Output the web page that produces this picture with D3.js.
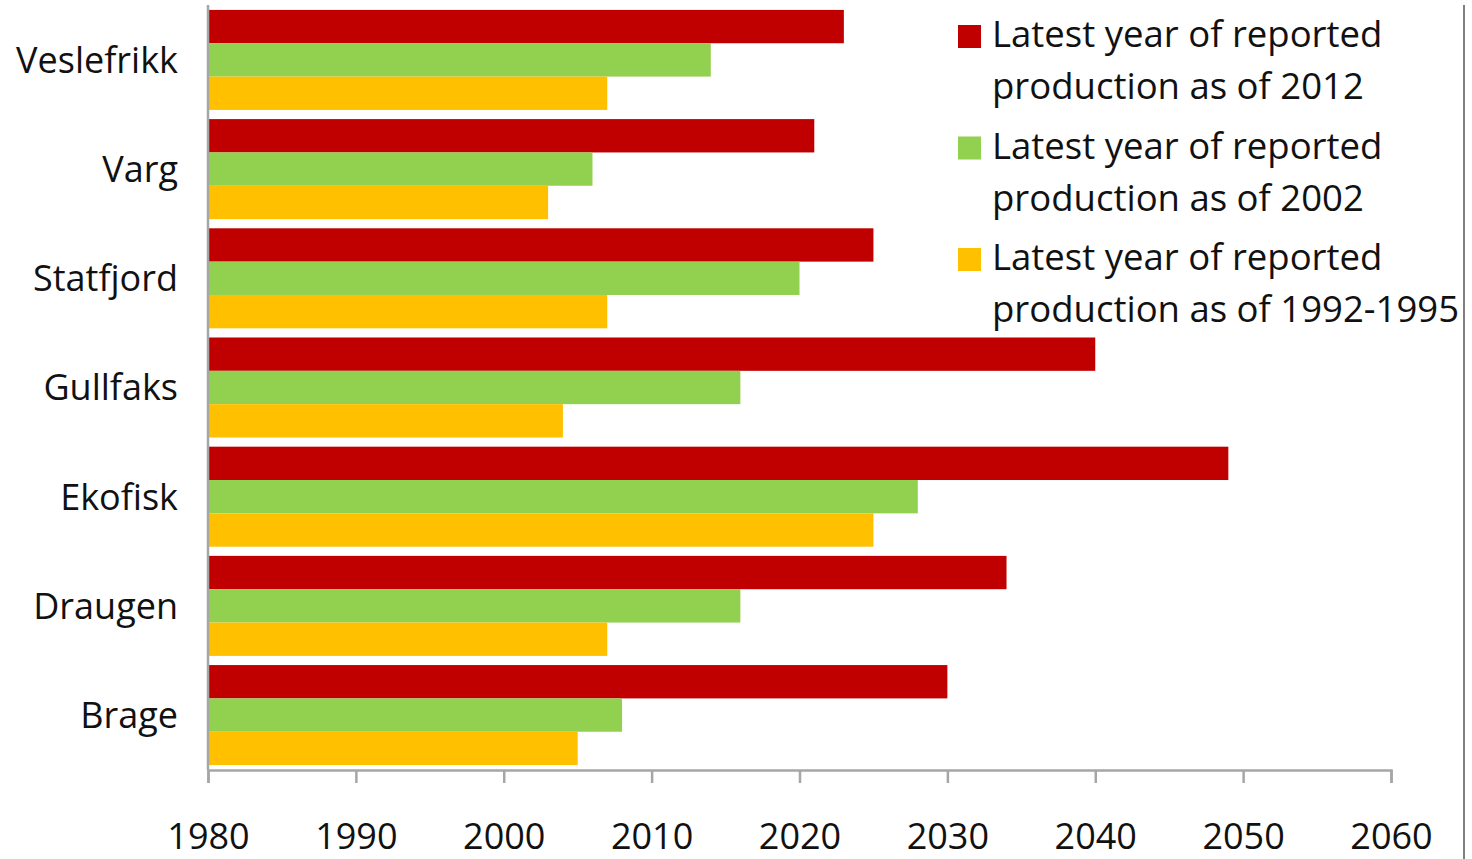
<!DOCTYPE html>
<html>
<head>
<meta charset="utf-8">
<script src="https://cdn.jsdelivr.net/npm/d3@7"></script>
<style>
  body { margin: 0; background: white; }
  text { font-family: "Open Sans", sans-serif; fill: #111; }
</style>
</head>
<body>
<div id="chart"></div>
<script>
// fields, top to bottom
var fields = ["Veslefrikk", "Varg", "Statfjord", "Gullfaks", "Ekofisk", "Draugen", "Brage"];

// series (legend order)
var seriesNames = [
  ["Latest year of reported", "production as of 2012"],
  ["Latest year of reported", "production as of 2002"],
  ["Latest year of reported", "production as of 1992-1995"]
];
var seriesColours = ["#C00000", "#92D050", "#FFC000"];

// latest reported production year per field
var asOf2012 = [2023, 2021, 2025, 2040, 2049, 2034, 2030];
var asOf2002 = [2014, 2006, 2020, 2016, 2028, 2016, 2008];
var asOf1992 = [2007, 2003, 2007, 2004, 2025, 2007, 2005];

var xTicks = [1980, 1990, 2000, 2010, 2020, 2030, 2040, 2050, 2060];

var width = 1472, height = 859;
var margin = { top: 5, left: 208, right: 81, bottom: 89 };

var svg = d3.select("#chart").append("svg")
  .attr("width", width)
  .attr("height", height);

var seriesValues = [asOf2012, asOf2002, asOf1992];

var xScale = d3.scaleLinear()
  .domain([1980, 2060])
  .range([margin.left, width - margin.right]);

var yScale = d3.scaleBand()
  .domain(fields)
  .range([margin.top, height - margin.bottom])
  .paddingInner(0.084)
  .paddingOuter(0.045);

var inner = d3.scaleBand()
  .domain(d3.range(seriesValues.length))
  .range([0, yScale.bandwidth()]);

// bars, one group per field
var groups = svg.append("g")
  .selectAll("g")
  .data(fields)
  .enter()
  .append("g")
  .attr("transform", (d) => "translate(0," + yScale(d) + ")");

groups.selectAll("rect")
  .data((d, i) => seriesValues.map((vals, s) => ({ s: s, value: vals[i] })))
  .enter()
  .append("rect")
  .attr("x", xScale(1980) + 1)
  .attr("y", (d) => inner(d.s))
  .attr("width", (d) => xScale(d.value) - xScale(1980) - 1)
  .attr("height", inner.bandwidth())
  .style("fill", (d) => seriesColours[d.s]);

// category labels
svg.append("g")
  .selectAll("text")
  .data(fields)
  .enter()
  .append("text")
  .attr("x", 178)
  .attr("y", (d) => yScale(d) + yScale.bandwidth() / 2)
  .attr("dy", "0.36em")
  .attr("text-anchor", "end")
  .style("font-size", "36px")
  .text((d) => d);

// x axis
var xAxis = d3.axisBottom(xScale)
  .tickValues(xTicks)
  .tickFormat(d3.format("d"))
  .tickSize(13)
  .tickSizeOuter(13);

var xg = svg.append("g")
  .attr("transform", "translate(0," + (height - margin.bottom) + ")")
  .call(xAxis);
xg.selectAll("path, line").style("stroke", "#a6a6a6").style("stroke-width", 2.5);
xg.selectAll("text")
  .attr("y", 79)
  .attr("dy", 0)
  .style("font-size", "36px")
  .style("font-family", "'Open Sans', sans-serif")
  .style("fill", "#111");

// y axis line
svg.append("line")
  .attr("x1", margin.left).attr("x2", margin.left)
  .attr("y1", margin.top).attr("y2", height - margin.bottom)
  .style("stroke", "#a6a6a6")
  .style("stroke-width", 2.5);

// right border line
svg.append("line")
  .attr("x1", 1464).attr("x2", 1464)
  .attr("y1", 5).attr("y2", height)
  .style("stroke", "#555")
  .style("stroke-width", 1.5);

// legend
var legend = svg.append("g")
  .selectAll("g")
  .data(seriesNames)
  .enter()
  .append("g")
  .attr("transform", (d, i) => "translate(958," + (25 + i * 111.5) + ")");

legend.append("rect")
  .attr("width", 23)
  .attr("height", 23)
  .style("fill", (d, i) => seriesColours[i]);

legend.append("text")
  .attr("x", 34)
  .attr("y", 22)
  .style("font-size", "36.5px")
  .text((d) => d[0]);

legend.append("text")
  .attr("x", 34)
  .attr("y", 74)
  .style("font-size", "36.5px")
  .text((d) => d[1]);
</script>
</body>
</html>
